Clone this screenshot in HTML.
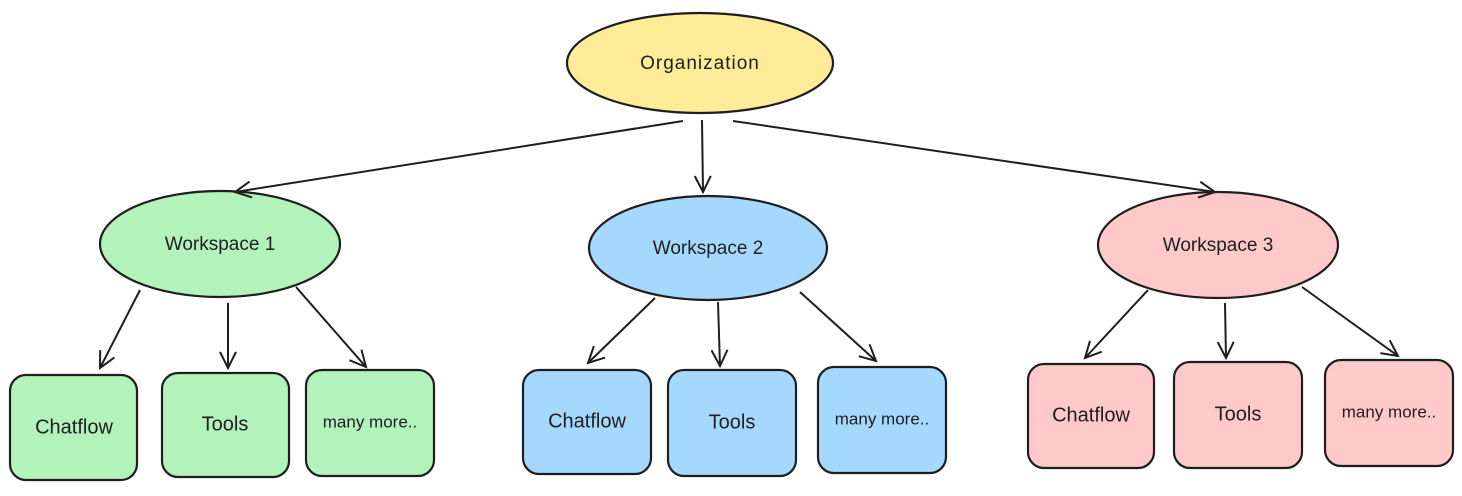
<!DOCTYPE html>
<html><head><meta charset="utf-8"><style>
html,body{margin:0;padding:0;background:#fff;}
svg text{font-family:"Liberation Sans",sans-serif;font-size:19px;fill:#1e1e1e;text-anchor:middle;dominant-baseline:middle;}
</style></head><body>
<svg width="1462" height="491" viewBox="0 0 1462 491" xmlns="http://www.w3.org/2000/svg">
<defs><marker id="a" viewBox="0 0 20 20" refX="18" refY="10" markerWidth="20" markerHeight="20" markerUnits="userSpaceOnUse" orient="auto"><path d="M2 2 L18 10 L2 18" fill="none" stroke="#1e1e1e" stroke-width="2"/></marker></defs>
<g stroke="#1e1e1e" stroke-width="2.2">
<ellipse cx="700" cy="63" rx="133" ry="50" fill="#ffec99"/>
<ellipse cx="220" cy="244" rx="120" ry="53" fill="#b2f2bb"/>
<ellipse cx="708" cy="248" rx="119" ry="52" fill="#a5d8ff"/>
<ellipse cx="1218" cy="245" rx="120" ry="53" fill="#ffc9c9"/>
<rect x="10" y="375" width="127" height="105" rx="16" fill="#b2f2bb"/>
<rect x="162" y="373" width="127" height="104" rx="16" fill="#b2f2bb"/>
<rect x="306" y="370" width="128" height="106" rx="16" fill="#b2f2bb"/>
<rect x="523" y="370" width="128" height="104" rx="16" fill="#a5d8ff"/>
<rect x="668" y="370" width="128" height="106" rx="16" fill="#a5d8ff"/>
<rect x="818" y="367" width="128" height="106" rx="16" fill="#a5d8ff"/>
<rect x="1028" y="364" width="126" height="104" rx="16" fill="#ffc9c9"/>
<rect x="1174" y="362" width="128" height="106" rx="16" fill="#ffc9c9"/>
<rect x="1325" y="360" width="128" height="106" rx="16" fill="#ffc9c9"/>
</g>
<g stroke="#1e1e1e" stroke-width="2" fill="none" marker-end="url(#a)">
<line x1="683" y1="121" x2="235" y2="192"/>
<line x1="702" y1="120" x2="703" y2="192"/>
<line x1="733" y1="121" x2="1215" y2="192"/>
<line x1="140" y1="290" x2="100" y2="368"/>
<line x1="228" y1="303" x2="228" y2="368"/>
<line x1="296" y1="287" x2="366" y2="367"/>
<line x1="655" y1="298" x2="588" y2="363"/>
<line x1="718" y1="302" x2="720" y2="366"/>
<line x1="800" y1="292" x2="876" y2="361"/>
<line x1="1148" y1="290" x2="1085" y2="358"/>
<line x1="1225" y1="303" x2="1226" y2="358"/>
<line x1="1302" y1="287" x2="1398" y2="356"/>
</g>
<text x="700" y="64" style="font-size:19px;letter-spacing:1px">Organization</text>
<text x="220" y="245">Workspace 1</text>
<text x="708" y="249">Workspace 2</text>
<text x="1218" y="246">Workspace 3</text>
<text x="74" y="428" style="font-size:20px">Chatflow</text>
<text x="225" y="425" style="font-size:20px">Tools</text>
<text x="370" y="423" style="font-size:17px">many more..</text>
<text x="587" y="422" style="font-size:20px">Chatflow</text>
<text x="732" y="423" style="font-size:20px">Tools</text>
<text x="882" y="420" style="font-size:17px">many more..</text>
<text x="1091" y="416" style="font-size:20px">Chatflow</text>
<text x="1238" y="415" style="font-size:20px">Tools</text>
<text x="1389" y="413" style="font-size:17px">many more..</text>
</svg>
</body></html>
